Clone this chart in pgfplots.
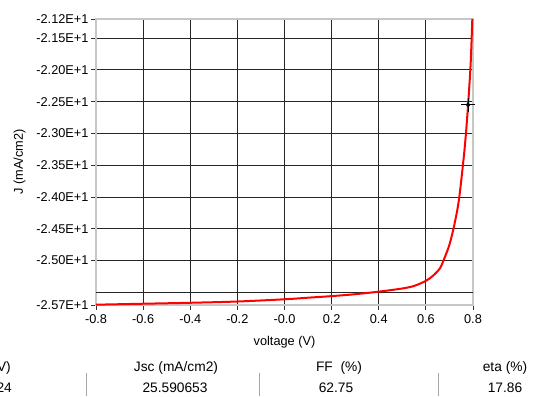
\documentclass[border=0pt]{standalone}
\usepackage{pgfplots}
\pgfplotsset{compat=1.18}
\usepackage{fontspec}
\setmainfont{Liberation Sans}
\begin{document}
\begin{tikzpicture}[x=1bp,y=1bp]
\useasboundingbox (0,0) rectangle (539,396);
\clip (0,0) rectangle (539,396);
\begin{axis}[
  at={(96bp,91bp)}, anchor=south west,
  scale only axis, width=377bp, height=286bp,
  xmin=-0.8, xmax=0.8, ymin=-25.7, ymax=-21.2,
  xtick={-0.8,-0.6,-0.4,-0.2,0,0.2,0.4,0.6,0.8},
  xticklabels={-0.8,-0.6,-0.4,-0.2,-0.0,0.2,0.4,0.6,0.8},
  ytick={-25.7,-25,-24.5,-24,-23.5,-23,-22.5,-22,-21.5,-21.2},
  yticklabels={-2.57E+1,-2.50E+1,-2.45E+1,-2.40E+1,-2.35E+1,-2.30E+1,-2.25E+1,-2.20E+1,-2.15E+1,-2.12E+1},
  extra y ticks={-25.5}, extra y tick labels={},
  extra y tick style={major tick length=0pt, grid=major},
  grid=major,
  major grid style={draw=black!85, line width=0.9bp},
  axis line style={draw=black!22, line width=1.2bp},
  tick align=outside, major tick length=5bp,
  tick style={draw=black!80, line width=0.9bp},
  xtick pos=bottom, ytick pos=left,
  ticklabel style={font=\fontsize{12.8}{14}\selectfont},
  xticklabel style={yshift=-1bp},
  yticklabel style={xshift=1bp},
  xlabel={voltage (V)}, ylabel={J (mA/cm2)},
  xlabel style={font=\fontsize{12.8}{14}\selectfont, yshift=-6bp},
  ylabel style={font=\fontsize{12.8}{14}\selectfont, yshift=-1bp},
  clip=false,
]
\addplot[red, line width=2bp, smooth, tension=0.5] coordinates {
(-0.8,-25.695) (-0.6,-25.68) (-0.4,-25.665) (-0.2,-25.645) (0.0,-25.61)
(0.1,-25.585) (0.2,-25.56) (0.3,-25.53) (0.4,-25.49) (0.5,-25.44)
(0.55,-25.40) (0.6,-25.32) (0.63,-25.24) (0.66,-25.12) (0.68,-24.95)
(0.70,-24.75) (0.72,-24.45) (0.74,-24.05) (0.76,-23.4) (0.77,-23.0)
(0.78,-22.5) (0.79,-21.9) (0.797,-21.2)
};
\addplot[black, only marks, mark=+, mark size=7bp, mark options={line width=0.9bp}] coordinates {(0.779,-22.55)};
\addplot[black, only marks, mark=o, mark size=1.8bp, mark options={line width=0.9bp}] coordinates {(0.779,-22.55)};
\end{axis}
\begin{scope}[every node/.style={font=\fontsize{13.8}{15}\selectfont, inner sep=0pt}]
\node[anchor=east] at (11,28) {Voc (V)};
\node[anchor=east] at (12,8) {1.1124};
\node at (176,28) {Jsc (mA/cm2)};
\node at (175,8) {25.590653};
\node at (339,28) {FF\ \ (\%)};
\node at (336,8) {62.75};
\node at (505,28) {eta (\%)};
\node at (505,8) {17.86};
\draw[black!35, line width=1bp] (86,23) -- (86,0);
\draw[black!35, line width=1bp] (259,23) -- (259,0);
\draw[black!35, line width=1bp] (438,23) -- (438,0);
\end{scope}
\end{tikzpicture}
\end{document}
